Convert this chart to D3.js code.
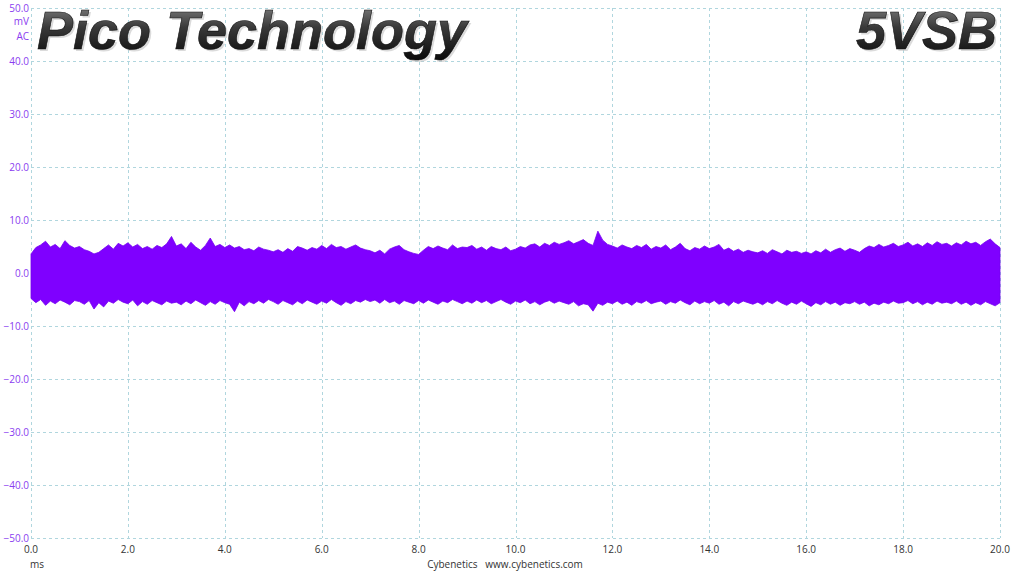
<!DOCTYPE html>
<html><head><meta charset="utf-8">
<script src="https://cdn.jsdelivr.net/npm/d3@7"></script>
<style>html,body{margin:0;padding:0;background:#fff;}svg{display:block;}</style>
</head><body>
<svg id="chart" width="1015" height="571"></svg>
<script>
// ---- data ----
const title = "Pico Technology";
const rail = "5VSB";
const yTicks = [50, 40, 30, 20, 10, 0, -10, -20, -30, -40, -50];
const xTicks = [0, 2, 4, 6, 8, 10, 12, 14, 16, 18, 20];
const sampleStep = 0.1; // ms
// upper envelope (mV), every 0.1 ms from 0 to 20 ms
const upper = [
 3.6,4.8,5.3,6.0,4.9,5.4,4.6,6.1,5.2,4.7,
 5.0,4.4,4.1,3.6,3.9,4.6,5.3,4.5,5.6,5.1,
 5.7,4.9,5.4,4.6,5.0,4.5,5.2,4.8,5.5,6.9,
 5.1,5.5,4.6,5.8,4.9,4.3,5.2,6.6,5.0,5.4,
 4.8,5.3,4.7,5.0,4.4,4.6,4.2,4.9,4.5,4.3,
 4.0,4.4,3.9,4.6,4.1,5.0,4.7,4.3,4.8,4.5,
 5.2,4.6,5.4,4.8,5.0,4.5,4.9,5.3,4.7,4.4,
 4.2,3.8,4.3,3.6,4.5,4.9,5.2,4.4,4.0,3.7,
 3.5,4.3,5.0,4.6,5.1,4.7,4.4,5.3,4.6,4.9,
 4.8,5.2,4.5,4.9,4.3,5.0,4.6,4.4,4.9,4.2,
 4.5,5.0,4.7,5.3,5.5,4.9,5.6,5.2,5.8,5.4,
 5.7,6.1,5.5,5.9,6.3,5.6,5.2,7.9,6.2,5.4,
 5.1,4.7,5.3,4.9,4.6,5.2,4.8,5.4,4.5,5.0,
 4.7,5.3,4.4,4.9,5.6,4.6,4.2,4.8,4.5,5.1,
 4.6,4.9,5.4,4.3,4.7,4.1,4.5,3.9,4.3,4.0,
 3.8,4.2,3.7,4.4,4.0,3.6,4.3,3.9,4.1,3.7,
 4.0,3.6,4.2,3.8,4.5,3.9,4.4,4.7,4.1,4.6,
 4.3,3.9,4.6,5.1,4.8,5.4,4.9,5.2,5.6,5.0,
 5.3,5.8,5.1,5.5,5.0,5.7,5.2,5.9,5.4,5.6,
 5.1,5.7,5.3,6.0,5.5,5.8,5.2,5.9,6.4,5.5,
 4.8
];
// lower envelope (mV)
const lower = [
 -4.8,-5.6,-5.0,-6.1,-5.3,-5.8,-5.1,-5.5,-6.0,-5.2,
 -5.4,-5.9,-5.2,-6.8,-5.6,-6.4,-5.3,-5.7,-5.0,-5.5,
 -5.8,-5.1,-6.2,-5.4,-5.9,-5.2,-5.6,-6.0,-5.3,-5.7,
 -5.5,-6.0,-5.3,-5.8,-5.1,-5.6,-6.1,-5.4,-5.9,-5.2,
 -5.6,-5.9,-7.3,-5.5,-6.2,-5.4,-5.8,-5.2,-5.7,-5.0,
 -5.4,-5.9,-5.2,-5.6,-6.0,-5.3,-5.8,-5.1,-5.5,-5.9,
 -5.3,-5.7,-5.0,-5.6,-6.1,-5.4,-5.8,-5.2,-5.5,-5.0,
 -5.4,-5.1,-5.7,-5.0,-5.6,-5.3,-5.9,-5.2,-5.5,-5.8,
 -5.2,-5.7,-5.1,-5.5,-5.9,-5.3,-5.6,-5.0,-5.4,-5.8,
 -5.3,-5.7,-5.1,-5.6,-5.2,-5.8,-5.4,-5.0,-5.5,-5.9,
 -5.3,-5.6,-5.1,-5.8,-5.4,-6.0,-5.5,-5.2,-5.7,-5.3,
 -5.6,-5.9,-5.4,-6.2,-5.8,-6.0,-7.2,-5.7,-6.1,-5.5,
 -5.8,-5.3,-5.9,-5.5,-6.1,-5.4,-5.7,-5.2,-5.8,-5.5,
 -5.3,-5.9,-5.4,-5.7,-5.1,-5.6,-6.0,-5.3,-5.8,-5.4,
 -5.7,-5.2,-5.9,-5.5,-6.2,-5.4,-5.8,-5.3,-5.6,-5.9,
 -5.5,-6.0,-5.4,-5.8,-5.2,-5.7,-6.1,-5.5,-5.9,-5.3,
 -5.8,-6.3,-5.6,-6.0,-5.4,-5.9,-5.5,-6.1,-5.6,-5.8,
 -5.4,-5.9,-5.5,-6.2,-5.7,-6.0,-5.5,-5.8,-5.3,-5.7,
 -5.6,-5.2,-5.8,-5.4,-6.0,-5.5,-5.9,-5.3,-5.7,-5.5,
 -5.8,-5.3,-5.9,-5.5,-6.1,-5.6,-6.0,-5.4,-5.8,-6.2,
 -5.6
];

// ---- chart ----
const svg = d3.select("#chart");
const x = d3.scaleLinear().domain([0, 20]).range([31, 1000]);
const y = d3.scaleLinear().domain([-50, 50]).range([538, 8]);
const gridColor = "#b0d6de";

const defs = svg.append("defs");
const grad = defs.append("linearGradient").attr("id", "tg").attr("x1", 0).attr("y1", 0).attr("x2", 0).attr("y2", 1);
grad.append("stop").attr("offset", "0%").attr("stop-color", "#8c8c8c");
grad.append("stop").attr("offset", "45%").attr("stop-color", "#3a3a3a");
grad.append("stop").attr("offset", "100%").attr("stop-color", "#0a0a0a");

// grid
const grid = svg.append("g");
grid.selectAll("line.h").data(yTicks).join("line")
  .attr("x1", x(0)).attr("x2", x(20))
  .attr("y1", d => y(d) + 0.5).attr("y2", d => y(d) + 0.5)
  .attr("stroke", gridColor).attr("stroke-width", 1).attr("stroke-dasharray", "3,3");
grid.selectAll("line.v").data(xTicks).join("line")
  .attr("y1", y(50)).attr("y2", y(-50))
  .attr("x1", d => Math.round(x(d)) + 0.5).attr("x2", d => Math.round(x(d)) + 0.5)
  .attr("stroke", gridColor).attr("stroke-width", 1).attr("stroke-dasharray", "3,3");

// waveform band
const series = upper.map((u, i) => ({t: i * sampleStep, hi: u, lo: lower[i]}));
const area = d3.area().x(d => x(d.t)).y0(d => y(d.lo)).y1(d => y(d.hi));
svg.append("path").datum(series).attr("d", area)
  .attr("fill", "#7f00ff").attr("stroke", "#7400f0").attr("stroke-width", 0.8);

// y labels
const yl = svg.append("g").attr("font-family", "'Open Sans', 'DejaVu Sans', sans-serif")
  .attr("font-size", 10).attr("fill", "#8a3cf0").attr("text-anchor", "end");
yl.selectAll("text").data(yTicks).join("text")
  .attr("x", 29).attr("y", d => y(d) + 3.5).text(d => d3.format(".1f")(d));
yl.append("text").attr("x", 29).attr("y", 25).text("mV");
yl.append("text").attr("x", 29).attr("y", 40).text("AC");

// x labels
const xl = svg.append("g").attr("font-family", "'Open Sans', 'DejaVu Sans', sans-serif")
  .attr("font-size", 10).attr("fill", "#333").attr("text-anchor", "middle");
xl.selectAll("text").data(xTicks).join("text")
  .attr("x", d => x(d)).attr("y", 553).text(d => d3.format(".1f")(d));
xl.append("text").attr("x", 37).attr("y", 568).text("ms");
xl.append("text").attr("x", 505).attr("y", 568).style("white-space", "pre")
  .text("Cybenetics   www.cybenetics.com");

// titles
function bigText(txt, xx, anchor) {
  const g = svg.append("g").attr("font-family", "'Liberation Sans', Arial, sans-serif")
    .attr("font-weight", "bold").attr("font-style", "italic").attr("font-size", 54)
    .attr("text-anchor", anchor);
  g.append("text").attr("x", xx + 2).attr("y", 51).text(txt).attr("fill", "#c4c4c4").attr("opacity", 0.6);
  g.append("text").attr("x", xx).attr("y", 49).text(txt)
    .attr("fill", "url(#tg)").attr("stroke", "#111").attr("stroke-width", 0.6);
}
bigText(title, 37, "start");
bigText(rail, 997, "end");
</script>
</body></html>
